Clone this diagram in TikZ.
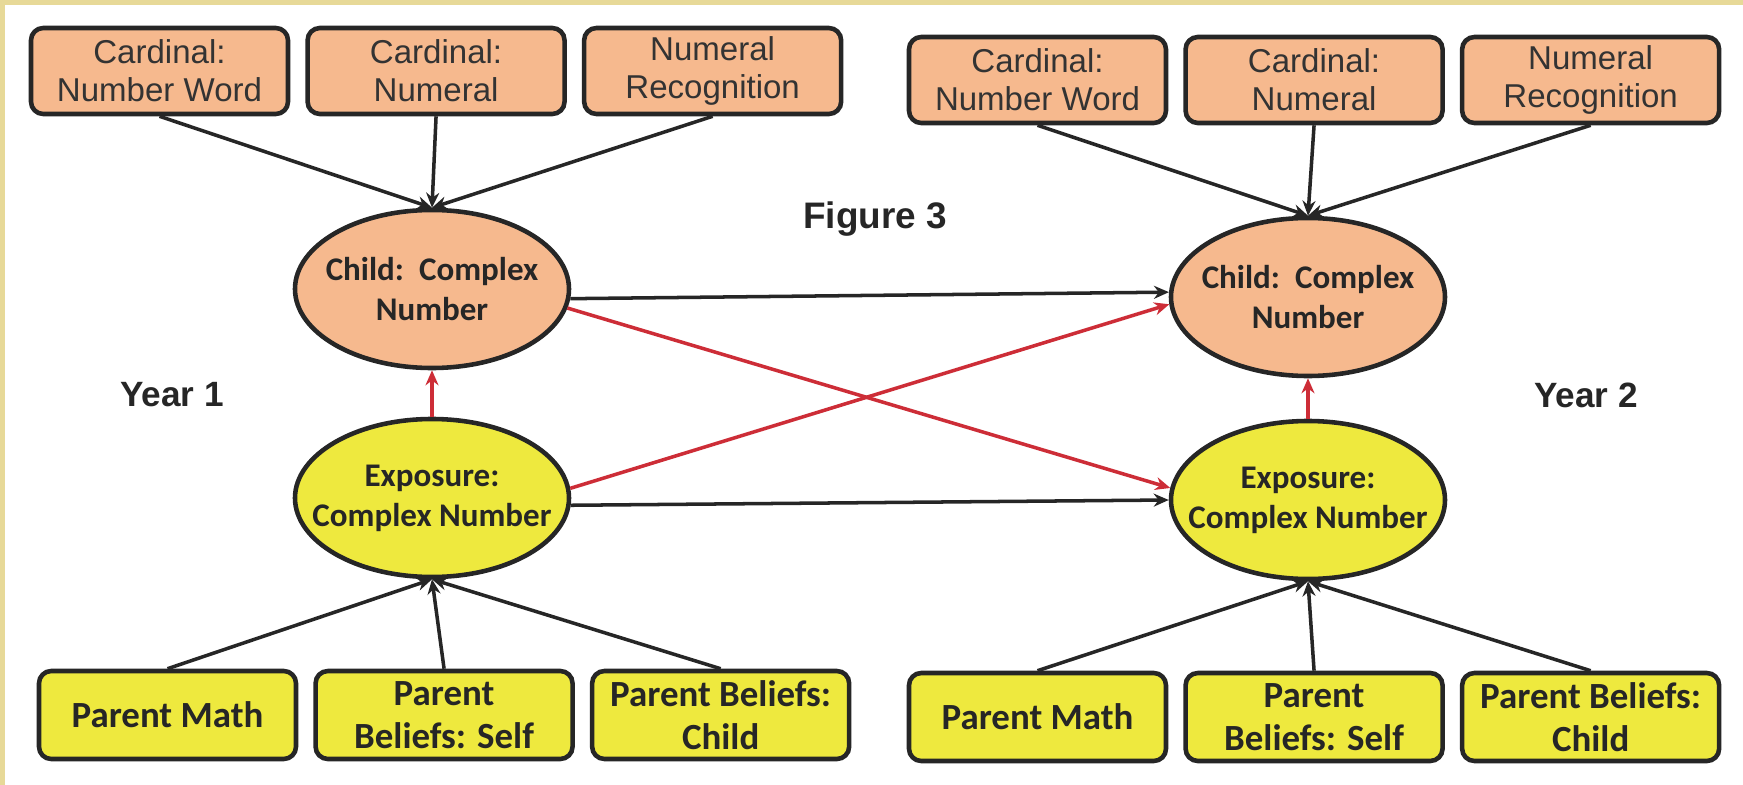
\documentclass[tikz,border=0pt]{standalone}
\usepackage{fontspec}
\setmainfont{Liberation Sans}
\newfontfamily\carlito{Carlito}
\usepackage{xcolor}
\usetikzlibrary{positioning,arrows.meta,shapes.geometric}

\definecolor{peach}{RGB}{246,185,142}
\definecolor{lemon}{RGB}{238,233,62}
\definecolor{framebeige}{RGB}{231,217,152}
\definecolor{crossred}{RGB}{205,45,55}

\begin{document}
\begin{tikzpicture}[
  node distance=1.5mm and 1.5mm,
  box/.style={draw=black!85, line width=1.3pt, rounded corners=3.5pt, align=center,
              minimum width=2.57cm, inner sep=1pt},
  card/.style={box, fill=peach, minimum height=0.86cm, text=black!80,
               font=\fontsize{9.4}{10.8}\selectfont},
  parent/.style={box, fill=lemon, minimum height=0.88cm, text=black!85,
                 font=\carlito\bfseries\fontsize{10.5}{12.3}\selectfont},
  latent/.style={ellipse, draw=black!85, line width=1.3pt, align=center, text=black!85,
                 inner xsep=-9pt, inner ysep=0pt, minimum width=2.74cm, minimum height=1.58cm,
                 font=\carlito\bfseries\fontsize{9.4}{11.4}\selectfont},
  yearlab/.style={text=black!85, font=\bfseries\fontsize{10}{12}\selectfont},
  arr/.style={-{Stealth[length=1.5mm,width=1.3mm]}, line width=1pt, draw=black!85},
  redarr/.style={arr, draw=crossred}
]
  % frame
  \fill[framebeige] (0,0) rectangle (17.43,-7.85);
  \fill[white] (0.05,-0.05) rectangle (17.43,-7.85);

  % year 1 indicators
  \node[card] (wordA) at (1.595,-0.71) {Cardinal:\\Number Word};
  \node[card, right=of wordA] (numA) {Cardinal:\\Numeral};
  \node[card, right=of numA] (recogA) {Numeral\\Recognition};

  % year 2 indicators
  \node[card] (wordB) at (10.375,-0.80) {Cardinal:\\Number Word};
  \node[card, right=of wordB] (numB) {Cardinal:\\Numeral};
  \node[card, right=of numB] (recogB) {Numeral\\Recognition};

  % latent variables
  \node[latent, fill=peach] (childA) at (4.32,-2.89) {Child:\ \ Complex\\Number};
  \node[latent, fill=lemon] (expoA) at (4.32,-4.98) {Exposure:\\Complex Number};
  \node[latent, fill=peach] (childB) at (13.08,-2.97) {Child:\ \ Complex\\Number};
  \node[latent, fill=lemon] (expoB) at (13.08,-5.00) {Exposure:\\Complex Number};

  % parent predictors
  \node[parent] (mathA) at (1.675,-7.15) {Parent Math};
  \node[parent, right=of mathA] (selfA) {Parent\\Beliefs: Self};
  \node[parent, right=of selfA] (kidA) {Parent Beliefs:\\Child};

  \node[parent] (mathB) at (10.375,-7.17) {Parent Math};
  \node[parent, right=of mathB] (selfB) {Parent\\Beliefs: Self};
  \node[parent, right=of selfB] (kidB) {Parent Beliefs:\\Child};

  % labels
  \node[yearlab, font=\bfseries\fontsize{10.5}{12}\selectfont] (fig) at (8.75,-2.19) {Figure 3};
  \node[yearlab] (yr1) at (1.72,-3.95) {Year 1};
  \node[yearlab] (yr2) at (15.86,-3.95) {Year 2};

  \foreach \s in {wordA, numA, recogA}
    \draw[arr] (\s.south) -- (childA.north);
  \foreach \s in {wordB, numB, recogB}
    \draw[arr] (\s.south) -- (childB.north);
  \foreach \s in {mathA, selfA, kidA}
    \draw[arr] (\s.north) -- (expoA.south);
  \foreach \s in {mathB, selfB, kidB}
    \draw[arr] (\s.north) -- (expoB.south);

  \draw[arr] (childA.-4) -- (childB.178);
  \draw[arr] (expoA.-3) -- (expoB.west);
  \draw[redarr] (childA.-8) -- (expoB.175);
  \draw[redarr] (expoA.4) -- (childB.183);
  \draw[redarr] (expoA.north) -- (childA.south);
  \draw[redarr] (expoB.north) -- (childB.south);
\end{tikzpicture}
\end{document}
